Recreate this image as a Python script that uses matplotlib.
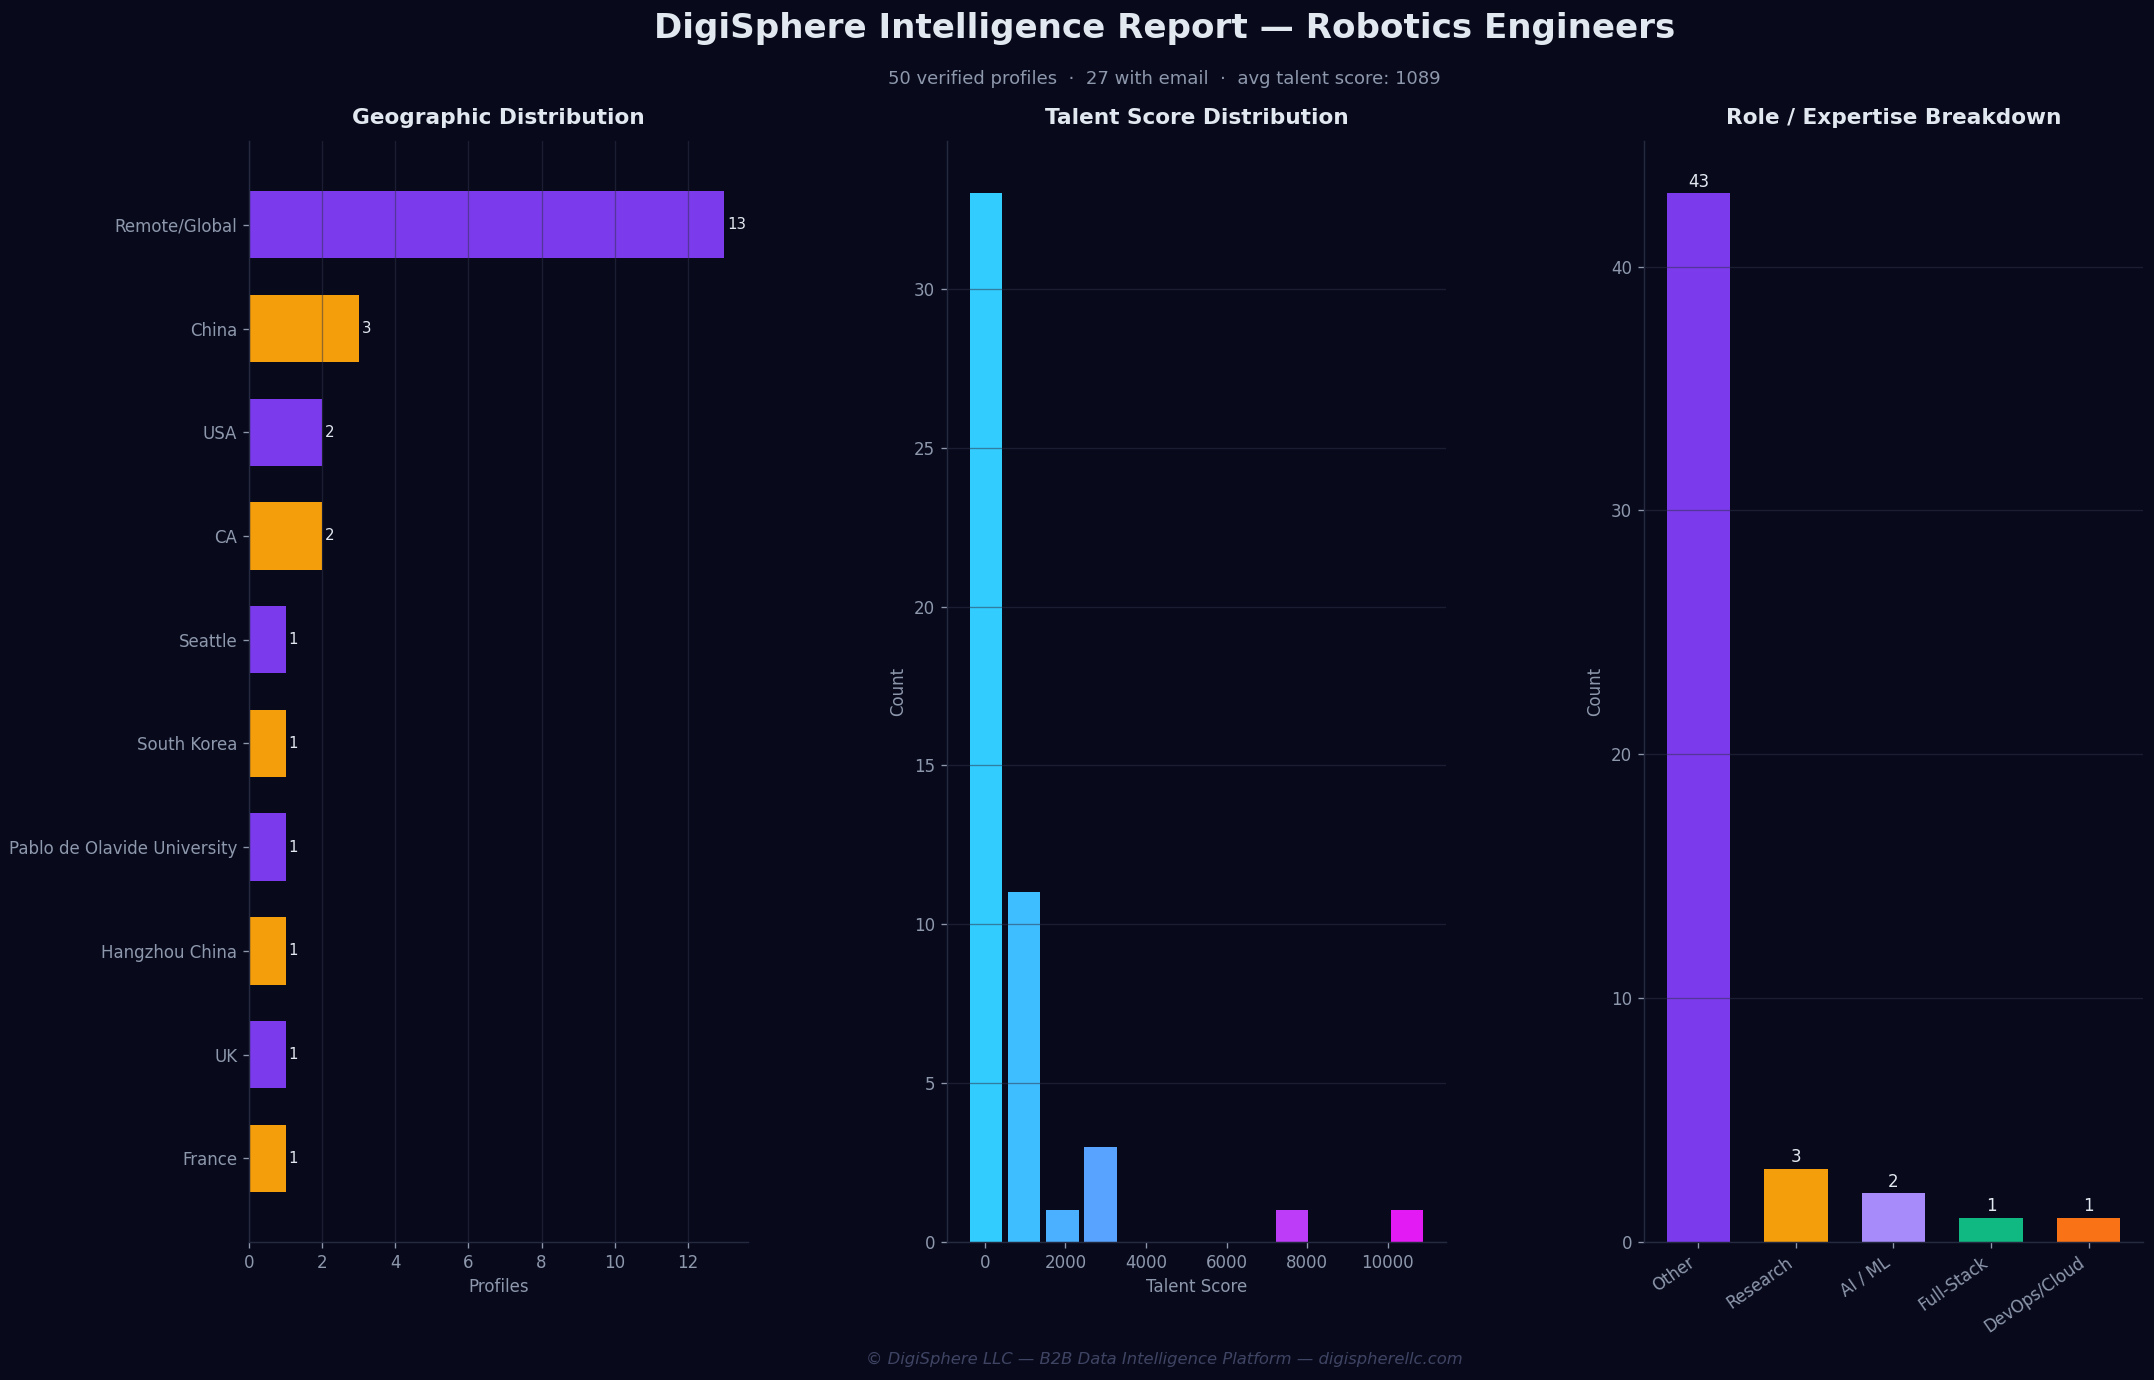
import numpy as np
import matplotlib
matplotlib.use("Agg")
import matplotlib.pyplot as plt
from matplotlib.colors import LinearSegmentedColormap

# ---- data ----
geo_labels = ["Remote/Global", "China", "USA", "CA", "Seattle", "South Korea",
              "Pablo de Olavide University", "Hangzhou China", "UK", "France"]
geo_counts = [13, 3, 2, 2, 1, 1, 1, 1, 1, 1]

score_min = -450
score_max = 10950
score_counts = [33, 11, 1, 3, 0, 0, 0, 0, 1, 0, 0, 1]

role_labels = ["Other", "Research", "AI / ML", "Full-Stack", "DevOps/Cloud"]
role_counts = [43, 3, 2, 1, 1]

# ---- style ----
BG = "#080a1c"
GRID = "#2e3348"
SPINE = "#262a40"
TICK = "#8e98ad"
TEXT = "#e2e8f0"
PURPLE = "#7c3aed"
ORANGE = "#f59e0b"
role_colors = [PURPLE, ORANGE, "#a78bfa", "#10b981", "#f97316"]

plt.rcParams["font.family"] = "DejaVu Sans"
plt.rcParams["font.size"] = 10

fig = plt.figure(figsize=(2154 / 120, 1380 / 120), dpi=120, facecolor=BG)

w = 0.2317
h = 0.7978
ax1 = fig.add_axes([0.1156, 0.10, w, h])
ax2 = fig.add_axes([0.4396, 0.10, w, h])
ax3 = fig.add_axes([0.7632, 0.10, w, h])


def style(ax, grid_axis):
    ax.set_facecolor(BG)
    for s in ["top", "right"]:
        ax.spines[s].set_visible(False)
    for s in ["left", "bottom"]:
        ax.spines[s].set_color(SPINE)
    ax.tick_params(colors=TICK, labelsize=10)
    ax.grid(axis=grid_axis, color=GRID, alpha=0.5, linewidth=0.8)


# geographic
style(ax1, "x")
ypos = np.arange(len(geo_labels))
geo_colors = [PURPLE if i % 2 == 0 else ORANGE for i in range(len(geo_labels))]
ax1.barh(ypos, geo_counts, height=0.65, color=geo_colors)
ax1.set_yticks(ypos)
ax1.set_yticklabels(geo_labels)
ax1.invert_yaxis()
for i, v in enumerate(geo_counts):
    ax1.text(v + 0.08, i, str(v), va="center", ha="left", color=TEXT, fontsize=9)
ax1.set_xlabel("Profiles", color=TICK, fontsize=10)
ax1.set_title("Geographic Distribution", color=TEXT, fontsize=13,
              fontweight="bold", pad=10.5)

# talent score histogram
style(ax2, "y")
edges = np.linspace(score_min, score_max, len(score_counts) + 1)
centers = (edges[:-1] + edges[1:]) / 2
n, bins, patches = ax2.hist(centers, bins=edges, weights=score_counts, rwidth=0.85)
cmap = LinearSegmentedColormap.from_list("score", ["#33ccff", "#5f99ff", "#b344f8", "#e41af5"])
for i, p in enumerate(patches):
    p.set_facecolor(cmap(i / (len(patches) - 1)))
    p.set_edgecolor("none")
ax2.set_xlabel("Talent Score", color=TICK, fontsize=10)
ax2.set_ylabel("Count", color=TICK, fontsize=10)
ax2.set_title("Talent Score Distribution", color=TEXT, fontsize=13,
              fontweight="bold", pad=10.5)

# role breakdown
style(ax3, "y")
xpos = np.arange(len(role_labels))
ax3.bar(xpos, role_counts, width=0.65, color=role_colors)
ax3.set_xticks(xpos)
ax3.set_xticklabels(role_labels, rotation=35, ha="right")
for i, v in enumerate(role_counts):
    ax3.text(i, v + 0.1, str(v), ha="center", va="bottom", color=TEXT, fontsize=10)
ax3.set_ylabel("Count", color=TICK, fontsize=10)
ax3.set_title("Role / Expertise Breakdown", color=TEXT, fontsize=13,
              fontweight="bold", pad=10.5)

cx = 0.5405
fig.text(cx, 0.979, "DigiSphere Intelligence Report \u2014 Robotics Engineers",
         ha="center", va="center", color=TEXT, fontsize=20.5, fontweight="bold")
fig.text(cx, 0.9425,
         "50 verified profiles  \u00b7  27 with email  \u00b7  avg talent score: 1089",
         ha="center", va="center", color=TICK, fontsize=10.8)
fig.text(cx, 0.015,
         "\u00a9 DigiSphere LLC \u2014 B2B Data Intelligence Platform \u2014 digispherellc.com",
         ha="center", va="center", color="#3f4463", fontsize=9.8, style="italic")

fig.savefig("out.png", dpi=120, facecolor=BG)
